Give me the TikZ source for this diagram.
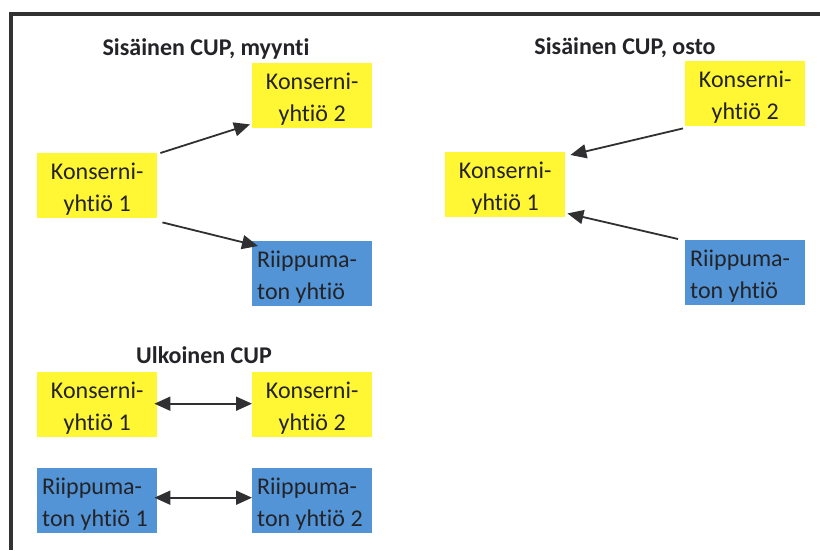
\documentclass[tikz,border=0pt]{standalone}
\usepackage{fontspec}
\setmainfont{Carlito}[Ligatures={NoCommon,NoRare,NoContextual}]
\usetikzlibrary{arrows.meta,calc}
\definecolor{boxyellow}{RGB}{255,246,52}
\definecolor{boxblue}{RGB}{82,148,214}
\definecolor{inkdark}{RGB}{35,35,40}
\definecolor{arrowgray}{RGB}{48,48,50}
\definecolor{framegray}{RGB}{50,50,50}
\newcommand\cupboxfont{\fontsize{24}{32}\selectfont}
\newcommand\cuptitlefont{\fontsize{24}{28}\selectfont\bfseries}

\begin{document}
\begin{tikzpicture}[x=1pt,y=-1pt,
  box/.style={minimum width=120pt, minimum height=65pt, inner sep=0pt, anchor=north west},
  ybox/.style={box, fill=boxyellow},
  bbox/.style={box, fill=boxblue},
  ytext/.style={align=center, inner sep=0pt, yshift=-3pt, font=\cupboxfont, text=inkdark},
  btext/.style={anchor=west, align=left, inner sep=0pt, xshift=5pt, yshift=-3pt, font=\cupboxfont, text=inkdark},
  title/.style={font=\cuptitlefont, anchor=base, inner sep=0pt, text=inkdark},
  link/.style={draw=arrowgray, line width=1.8pt, -{Triangle[length=16pt,width=14pt]}},
  bilink/.style={draw=arrowgray, line width=1.8pt, {Triangle[length=16pt,width=14pt]}-{Triangle[length=16pt,width=14pt]}},
]
\useasboundingbox (0,0) rectangle (820,550);
\fill[white] (0,0) rectangle (820,550);

% frame: left and top edges
\draw[framegray, line width=4pt] (10.5,550) -- (10.5,14) -- (820,14);

% internal CUP, sales
\node[title] (t1) at (206,55) {Sisäinen CUP, myynti};
\node[ybox, label={[ytext]center:{Konserni-\\yhtiö 2}}] (s2) at (252,63) {};
\node[ybox, label={[ytext]center:{Konserni-\\yhtiö 1}}] (s1) at (37,153) {};
\node[bbox, label={[btext]west:{Riippuma-\\ton yhtiö}}] (s3) at (252,241) {};
\draw[link] ($(s1.north east)+(3,0)$) -- ($(s2.south west)+(-2,-4)$);
\draw[link] ($(s1.south east)+(5,4)$) -- ($(s3.north west)+(6,5)$);

% internal CUP, purchase
\node[title] (t2) at (625,54) {Sisäinen CUP, osto};
\node[ybox, label={[ytext]center:{Konserni-\\yhtiö 2}}] (p2) at (685,61) {};
\node[ybox, label={[ytext]center:{Konserni-\\yhtiö 1}}] (p1) at (445,152) {};
\node[bbox, label={[btext]west:{Riippuma-\\ton yhtiö}}] (p3) at (685,240) {};
\draw[link] ($(p2.south west)+(-2,2)$) -- ($(p1.north east)+(5,3)$);
\draw[link] ($(p3.north west)+(-7,-1)$) -- ($(p1.south east)+(2,-4)$);

% external CUP
\node[title] (t3) at (204,363) {Ulkoinen CUP};
\node[ybox, label={[ytext]center:{Konserni-\\yhtiö 1}}] (e1) at (37,372) {};
\node[ybox, label={[ytext]center:{Konserni-\\yhtiö 2}}] (e2) at (252,372) {};
\node[bbox, label={[btext]west:{Riippuma-\\ton yhtiö 1}}] (e3) at (37,468) {};
\node[bbox, label={[btext]west:{Riippuma-\\ton yhtiö 2}}] (e4) at (252,468) {};
\draw[bilink] ($(e1.east)+(-3,-1)$) -- ($(e2.west)+(0,-1)$);
\draw[bilink] ($(e3.east)+(-3,-3)$) -- ($(e4.west)+(0,-3)$);
\end{tikzpicture}
\end{document}
